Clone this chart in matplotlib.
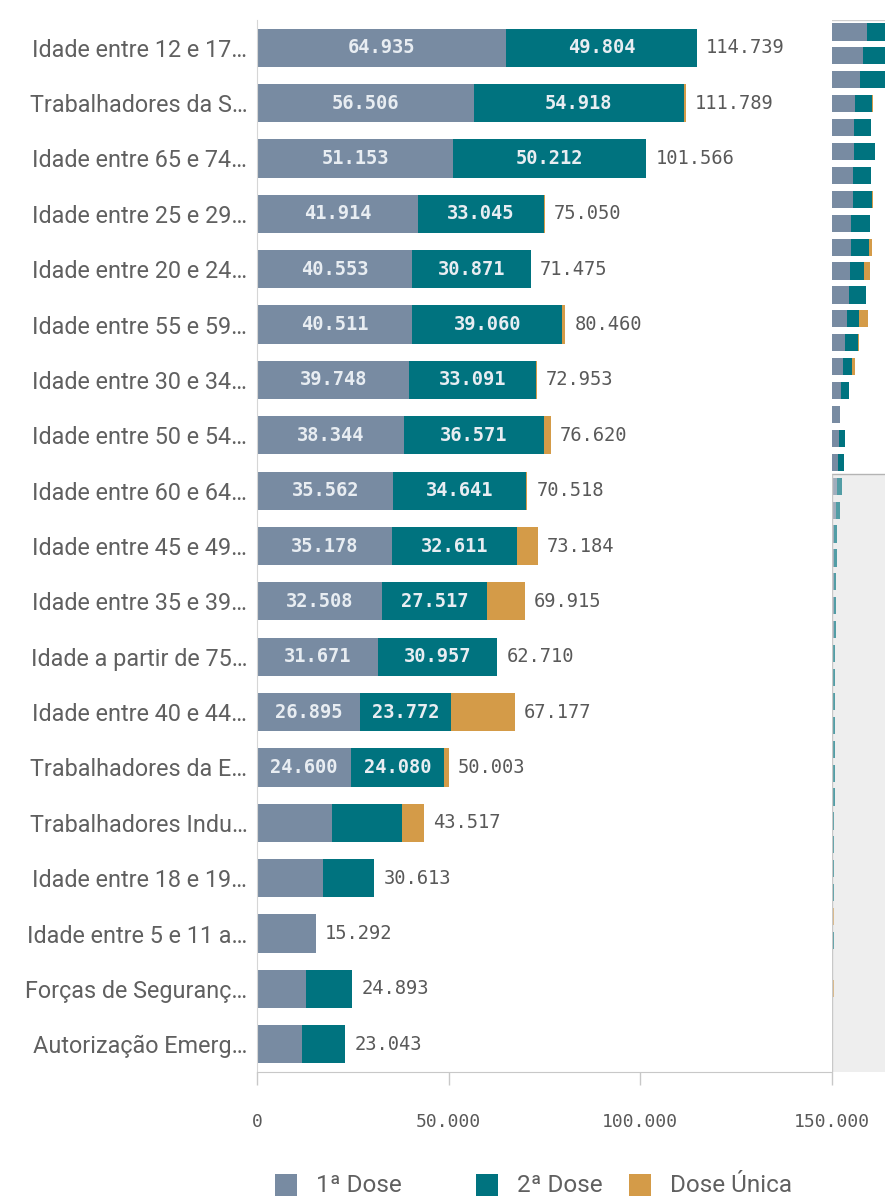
import matplotlib
matplotlib.use('Agg')
import matplotlib.pyplot as plt
from matplotlib.patches import Rectangle
import numpy as np

categories = ["Idade entre 12 e 17…", "Trabalhadores da S…", "Idade entre 65 e 74…",
              "Idade entre 25 e 29…", "Idade entre 20 e 24…", "Idade entre 55 e 59…",
              "Idade entre 30 e 34…", "Idade entre 50 e 54…", "Idade entre 60 e 64…",
              "Idade entre 45 e 49…", "Idade entre 35 e 39…", "Idade a partir de 75…",
              "Idade entre 40 e 44…", "Trabalhadores da E…", "Trabalhadores Indu…",
              "Idade entre 18 e 19…", "Idade entre 5 e 11 a…", "Forças de Seguranç…",
              "Autorização Emerg…"]
first_dose = [64935, 56506, 51153, 41914, 40553, 40511, 39748, 38344, 35562, 35178,
              32508, 31671, 26895, 24600, 19600, 17200, 15292, 12700, 11800]
second_dose = [49804, 54918, 50212, 33045, 30871, 39060, 33091, 36571, 34641, 32611,
               27517, 30957, 23772, 24080, 18100, 13413, 0, 12100, 11150]
single_dose = [0, 365, 201, 91, 51, 889, 114, 1705, 315, 5395,
               9890, 82, 16510, 1323, 5817, 0, 0, 93, 93]
totals = [114739, 111789, 101566, 75050, 71475, 80460, 72953, 76620, 70518, 73184,
          69915, 62710, 67177, 50003, 43517, 30613, 15292, 24893, 23043]

# categories further down the list (only visible in the scroll mini-chart)
extra_first = [9000, 7000, 4200, 4200, 3200, 3200, 3200, 2600, 2400, 2400, 2300, 2200, 2100,
               2000, 1900, 1800, 1700, 1600, 0, 1400, 1000, 0, 800, 0, 0]
extra_second = [9500, 8000, 5800, 5800, 4300, 4300, 4300, 3400, 3100, 3100, 3000, 2900, 2800,
                2700, 2600, 2500, 2300, 2200, 0, 1900, 1200, 0, 900, 0, 0]
extra_single = [0, 0, 0, 0, 0, 0, 0, 0, 0, 0, 0, 0, 0,
                0, 0, 0, 0, 0, 3800, 0, 0, 3300, 0, 0, 0]

series_names = ["1ª Dose", "2ª Dose", "Dose Única"]
xticks = [0, 50000, 100000, 150000]

C1, C2, C3 = '#788ba2', '#00737f', '#d49b48'
GREY = '#595959'
LABEL_GREY = '#606060'
MONO = 'DejaVu Sans Mono'
SANS = ['Roboto', 'DejaVu Sans']


def fmt(v):
    return f"{v:,.0f}".replace(",", ".")


W, H = 885, 1198
fig = plt.figure(figsize=(W / 100, H / 100), dpi=100)
fig.patch.set_facecolor('white')

# main axes: x 257..832 px, y 20..1072 px
ax = fig.add_axes([257 / W, (H - 1072) / H, 575 / W, 1052 / H])
y = np.arange(len(categories))
f = np.array(first_dose)
s = np.array(second_dose)
u = np.array(single_dose)
bh = 0.69
ax.barh(y, f, height=bh, color=C1, edgecolor='none')
ax.barh(y, s, left=f, height=bh, color=C2, edgecolor='none')
ax.barh(y, u, left=f + s, height=bh, color=C3, edgecolor='none')
ax.set_xlim(0, 150000)
ax.set_ylim(len(categories) - 0.5, -0.5)

for i in range(len(categories)):
    if f[i] > 21000:
        ax.text(f[i] / 2, i, fmt(f[i]), ha='center', va='center', color='#e8edf2',
                fontsize=13.5, family=MONO, fontweight='bold')
    if s[i] > 21000:
        ax.text(f[i] + s[i] / 2, i, fmt(s[i]), ha='center', va='center', color='#e8edf2',
                fontsize=13.5, family=MONO, fontweight='bold')
    ax.annotate(fmt(totals[i]), xy=(f[i] + s[i] + u[i], i), xytext=(9, 0),
                textcoords='offset pixels', ha='left', va='center', color=GREY,
                fontsize=13.5, family=MONO)

ax.set_yticks(y)
ax.set_yticklabels(categories, fontsize=16.8, color=LABEL_GREY, family=SANS)
ax.tick_params(axis='y', length=0, pad=7)
ax.set_xticks(xticks)
ax.set_xticklabels([fmt(v) for v in xticks], fontsize=13, color=GREY, family=MONO)
ax.tick_params(axis='x', length=9.5, width=1, color='#c8c8c8', direction='out', pad=20)
for sp in ['top', 'right']:
    ax.spines[sp].set_visible(False)
ax.spines['left'].set_color('#d6d6d6')
ax.spines['bottom'].set_color('#c8c8c8')

# mini scroll chart on the right
mf = np.array(first_dose + extra_first)
ms = np.array(second_dose + extra_second)
mu = np.array(single_dose + extra_single)
n = len(mf)
axm = fig.add_axes([832 / W, (H - 1072) / H, 81 / W, 1052 / H])
ym = np.arange(n)
axm.axhspan(len(categories) - 0.5, n - 0.5, color='#eeeeee', lw=0, zorder=0)
axm.barh(ym, mf, height=0.72, color=C1, edgecolor='none', zorder=2)
axm.barh(ym, ms, left=mf, height=0.72, color=C2, edgecolor='none', zorder=2)
axm.barh(ym, mu, left=mf + ms, height=0.72, color=C3, edgecolor='none', zorder=2)
axm.set_xlim(0, 150000)
axm.set_ylim(n - 0.5, -0.5)
axm.axhspan(len(categories) - 0.5, n - 0.5, color='#eeeeee', alpha=0.35, lw=0, zorder=3)
axm.axhline(len(categories) - 0.5, color='#b4b4b4', lw=1, zorder=4)
axm.vlines(0, len(categories) - 0.5, n - 0.5, color='#c8c8c8', lw=1, zorder=4)
axm.axhline(-0.5, color='#cfcfcf', lw=1, zorder=4)
axm.set_xticks([])
axm.set_yticks([])
for sp in axm.spines.values():
    sp.set_visible(False)

# legend
legend_x = [275, 476, 629]
for name, col, lx in zip(series_names, [C1, C2, C3], legend_x):
    fig.add_artist(Rectangle((lx / W, (H - 1196) / H), 22 / W, 22 / H,
                             transform=fig.transFigure, color=col, lw=0))
    fig.text((lx + 41) / W, (H - 1185) / H, name, ha='left', va='center',
             fontsize=17.5, color=LABEL_GREY, family=SANS)

fig.savefig('out.png', dpi=100, facecolor='white')
